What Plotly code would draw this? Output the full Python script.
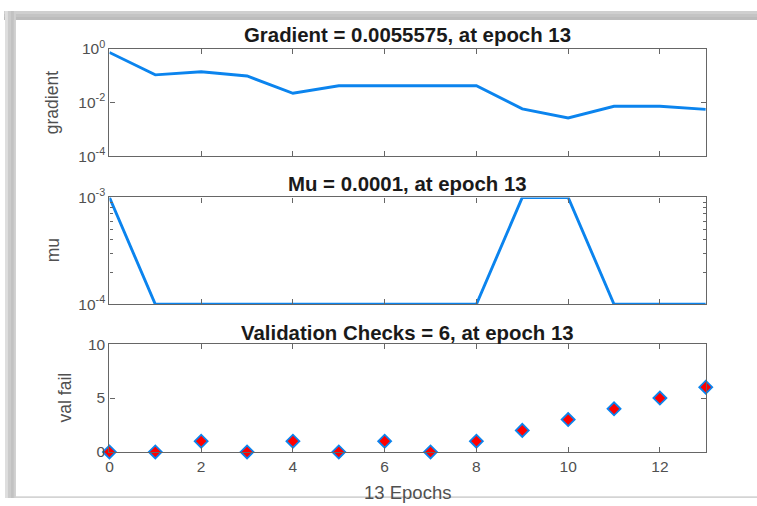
import plotly.graph_objects as go
from plotly.subplots import make_subplots

# Training record, epochs 0..13
epochs = list(range(14))
gradient = [0.73, 0.107, 0.14, 0.097, 0.022, 0.042, 0.042, 0.042, 0.042,
            0.0058, 0.00265, 0.0072, 0.0072, 0.0055575]
mu = [1e-3, 1e-4, 1e-4, 1e-4, 1e-4, 1e-4, 1e-4, 1e-4, 1e-4,
      1e-3, 1e-3, 1e-4, 1e-4, 1e-4]
val_fail = [0, 0, 1, 0, 1, 0, 1, 0, 1, 2, 3, 4, 5, 6]

titles = ["Gradient = 0.0055575, at epoch 13",
          "Mu = 0.0001, at epoch 13",
          "Validation Checks = 6, at epoch 13"]
ylabels = ["gradient", "mu", "val fail"]
xlabel = "13 Epochs"
x_ticks = [0, 2, 4, 6, 8, 10, 12]

W, H = 757, 506
# vertical placement helper: screen row -> figure row
Y_OFF, Y_SCALE = 8.0, 0.968
BLUE = "#0b84ee"
AXC = "#666666"
TXT = "#505050"
FONT = "Liberation Sans, Arial, sans-serif"


def px(x):
    return x / W


def py(y):
    return 1 - ((y - Y_OFF) / Y_SCALE) / H


fig = make_subplots(rows=3, cols=1)

fig.add_trace(go.Scatter(x=epochs, y=gradient, mode="lines",
                         line=dict(color=BLUE, width=2.9)), row=1, col=1)
fig.add_trace(go.Scatter(x=epochs, y=mu, mode="lines",
                         line=dict(color=BLUE, width=2.9)), row=2, col=1)
fig.add_trace(go.Scatter(x=epochs, y=val_fail, mode="markers",
                         marker=dict(symbol="diamond", size=10, color="red",
                                     line=dict(color=BLUE, width=1.8)),
                         cliponaxis=False), row=3, col=1)

x_dom = [px(106), px(705.5)]
y_doms = [[py(154), py(46)], [py(303), py(195.5)], [py(451.5), py(343)]]

common_axis = dict(showline=True, linecolor=AXC, linewidth=1.3, mirror="ticks",
                   ticks="inside", ticklen=5, tickcolor=AXC, tickwidth=1.2,
                   showgrid=False, zeroline=False,
                   tickfont=dict(family=FONT, size=15.5, color=TXT))

for i in range(3):
    xa = "xaxis" if i == 0 else f"xaxis{i+1}"
    fig.layout[xa].update(domain=x_dom, range=[0, 13], tickvals=x_ticks,
                          showticklabels=(i == 2), **common_axis)

fig.layout.yaxis.update(domain=y_doms[0], type="log", range=[-4, 0],
                        tickvals=[1e-4, 1e-2, 1],
                        ticktext=["10<sup>-4</sup>", "10<sup>-2</sup>", "10<sup>0</sup>"],
                        **common_axis)
fig.layout.yaxis2.update(domain=y_doms[1], type="log", range=[-4, -3],
                         tickvals=[1e-4, 1e-3],
                         ticktext=["10<sup>-4</sup>", "10<sup>-3</sup>"],
                         minor=dict(ticks="inside", ticklen=3, tickcolor=AXC,
                                    tickvals=[k * 1e-4 for k in range(2, 10)]),
                         **common_axis)
fig.layout.yaxis3.update(domain=y_doms[2], range=[0, 10], tickvals=[0, 5, 10],
                         **common_axis)

# Panel titles, axis labels
ann = []
title_y = [32.5, 182, 332]
for t, ty in zip(titles, title_y):
    ann.append(dict(text=f"<b>{t}</b>", x=px(405.75), y=py(ty), xref="paper",
                    yref="paper", showarrow=False, xanchor="center",
                    yanchor="middle",
                    font=dict(family=FONT, size=20.4, color="#1a1a1a")))
label_pos = [(49, 100), (49, 249), (61, 397)]
for lab, (lx, ly) in zip(ylabels, label_pos):
    ann.append(dict(text=lab, x=px(lx), y=py(ly), xref="paper", yref="paper",
                    showarrow=False, textangle=-90, xanchor="center",
                    yanchor="middle",
                    font=dict(family=FONT, size=17.5, color=TXT)))
ann.append(dict(text=xlabel, x=px(405.75), y=py(492), xref="paper",
                yref="paper", showarrow=False, xanchor="center",
                yanchor="middle", font=dict(family=FONT, size=18.5, color=TXT)))

# Shadowed frame around the figure
shapes = []
top_strips = [(8, 11, "#cfcfcf"), (11, 14, "#c4c4c4"), (14, 17, "#bcbcbc")]
for y0, y1, c in top_strips:
    shapes.append(dict(type="rect", xref="paper", yref="paper",
                       x0=0, x1=1, y0=py(y1), y1=py(y0),
                       fillcolor=c, line=dict(width=0), layer="below"))
left_strips = [(1, 4, "#dedede"), (4, 7, "#cbcbcb"), (7, 10, "#c2c2c2"),
               (10, 12, "#cfcfcf")]
for x0, x1, c in left_strips:
    shapes.append(dict(type="rect", xref="paper", yref="paper",
                       x0=px(x0), x1=px(x1), y0=0, y1=py(8),
                       fillcolor=c, line=dict(width=0), layer="below"))
shapes.append(dict(type="rect", xref="paper", yref="paper",
                   x0=px(12), x1=1, y0=0, y1=py(496),
                   fillcolor="#d4d4d4", line=dict(width=0), layer="below"))

fig.update_layout(width=W, height=H, margin=dict(l=0, r=0, t=0, b=0),
                  paper_bgcolor="white", plot_bgcolor="white",
                  showlegend=False, annotations=ann, shapes=shapes,
                  font=dict(family=FONT))

fig.write_html("out.html")
